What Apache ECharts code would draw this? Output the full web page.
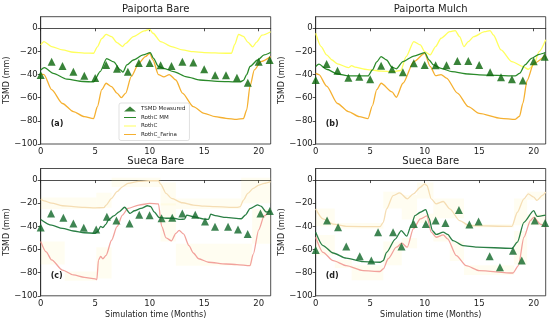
<!DOCTYPE html>
<html><head><meta charset="utf-8">
<script src="https://cdn.jsdelivr.net/npm/echarts@6/dist/echarts.min.js"></script>
<style>html,body{margin:0;padding:0;background:#fff}#c{width:550px;height:321px}</style>
</head><body><div id="c"></div>
<script>
// ---------- DATA ----------
const panelTitles = ['Paiporta Bare', 'Paiporta Mulch', 'Sueca Bare', 'Sueca Bare'];
const panelTags = ['(a)', '(b)', '(c)', '(d)'];
const seriesNames = ['TSMD Measured', 'RothC MM', 'RothC', 'RothC_Farina'];
const xTickValues = [0, 5, 10, 15, 20];
const yTickValues = [-100, -80, -60, -40, -20, 0];

// measured TSMD (month, mm)
const measA = [[0,-40.3],[1,-29],[2,-32.5],[3,-37.5],[4,-41],[5,-43],[6,-31.7],[7,-35],[8,-37.5],[9,-30],[10,-30],[11,-32],[12,-32.5],[13,-29],[14,-29.5],[15,-35.5],[16,-40.5],[17,-40.5],[18,-42.7],[19,-47],[20,-29],[21,-27.4]];
const measB = [[0,-44.7],[1,-30.8],[2,-36.6],[3,-42.7],[4,-41.8],[5,-44],[6,-32.3],[7,-35.4],[8,-38],[9,-30.3],[10,-31.7],[11,-32],[12,-32],[13,-28.2],[14,-28.2],[15,-31.7],[16,-38],[17,-42.4],[18,-44],[19,-45.2],[20,-28.5],[21,-24.5]];
const measC = [[0,-41],[0.95,-28.8],[2.08,-32.6],[3,-37.5],[3.95,-41.2],[5.09,-42.7],[6.07,-31.7],[6.95,-34.9],[8.15,-37.5],[9.04,-30],[9.99,-30.3],[11.09,-32.9],[12.07,-32.6],[12.99,-28.8],[14.18,-30],[15.07,-35.7],[15.99,-40.3],[17.19,-40.3],[18.1,-42.7],[18.99,-46.7],[20.16,-28.8],[21.02,-26.8]];
const measD = [[0,-60.5],[1.04,-35],[2.05,-40.8],[2.8,-57.5],[4.04,-65.8],[5.1,-69.6],[5.72,-45],[7.1,-45],[7.87,-57.5],[9,-37.9],[10.1,-37.9],[11,-35],[11.9,-37],[13.14,-25.8],[14.1,-38.3],[14.94,-35.9],[15.96,-65.8],[16.9,-75.3],[18.1,-61],[18.9,-69.6],[20.1,-35],[21.05,-37]];

// RothC MM
const mmA = [[0,-36],[0.35,-34],[1.15,-39],[2.4,-44],[3.9,-46],[4.85,-46.4],[5.45,-37.5],[6.05,-26.2],[6.7,-29],[7.3,-36],[7.55,-37.8],[7.9,-31.7],[8.5,-27.4],[9.4,-23],[10.05,-21],[10.35,-26],[10.8,-33],[11.3,-34.6],[12.2,-37.5],[13.4,-42],[14.6,-44.7],[16.2,-45.8],[18.3,-46.4],[18.6,-45],[18.9,-40],[19.2,-33],[19.9,-27.4],[20.5,-23],[21.1,-20.7]];
const mmB = [[0,-33],[0.3,-31],[1,-35.4],[2,-39.5],[3,-41.2],[4.8,-41.2],[5.2,-36],[5.6,-29],[6,-24.5],[6.5,-27.4],[7,-33.7],[7.4,-35],[8,-28.8],[9,-24],[10,-21],[10.4,-27.4],[10.8,-31.7],[11.5,-34.6],[12.5,-37.5],[14,-39.5],[15,-40.3],[18.3,-41.2],[18.7,-39],[19.2,-31.7],[19.8,-26],[20.5,-22.5],[21.1,-20.7]];
const mmC = [[0,-34],[1,-39],[2,-41.8],[3,-44],[4,-45.5],[5,-46],[5.2,-44.5],[5.5,-40],[5.7,-41],[6,-38],[6.2,-34.6],[6.7,-31],[7.2,-27.4],[7.7,-23.5],[8.2,-28.8],[8.6,-26.5],[9.2,-24.5],[9.8,-22.2],[10.1,-23],[10.4,-27.5],[10.9,-32.5],[11.5,-33],[12.2,-33],[12.8,-34],[13.2,-33.7],[13.4,-30.3],[14,-31.7],[15,-33.7],[15.4,-34],[15.6,-29.5],[16,-30.8],[17,-32.3],[18.4,-33.4],[18.8,-30],[19.2,-24.6],[19.9,-21.5],[20.2,-22.5],[20.7,-27.6],[21.1,-26.5]];
const mmD = [[0,-45],[0.67,-56.6],[1.6,-63],[2.8,-67.5],[4.35,-70.5],[5.9,-71],[6.2,-69.6],[6.5,-62.4],[7.3,-51],[7.85,-43.6],[8.35,-48.5],[8.8,-38],[9.1,-30.7],[9.6,-27.8],[10.1,-25.5],[10.4,-33],[10.7,-43.6],[11.05,-47],[11.7,-45],[12.1,-47],[12.6,-52.3],[13.5,-56.6],[14.8,-58],[18,-59],[18.5,-53.7],[19.1,-36.5],[20,-26.4],[20.3,-31.3],[21.1,-30.2]];

// RothC
const rothA = [[0,-14.4],[0.3,-11.5],[1,-15.8],[2,-18.7],[3,-20.7],[4,-21.5],[4.85,-21.6],[5.2,-16],[5.6,-9],[6,-5.2],[6.5,-7.2],[7,-12.4],[7.5,-15.8],[7.8,-13],[8.5,-7.2],[9.5,-2.3],[10,-0.9],[10.3,-4.3],[11,-11.5],[12,-15.8],[13,-18.7],[14,-20.2],[15,-21],[17,-21.6],[17.5,-21.6],[17.8,-14],[18.15,-5.3],[18.6,-7],[19,-12],[19.45,-16],[19.8,-12],[20.3,-6],[21.1,-3]];
const rothB = [[0,-4.3],[0.5,-15.8],[1,-23],[1.5,-27.4],[2,-30.8],[3,-34],[3.3,-32.3],[3.6,-33.5],[4.5,-35.4],[5,-36],[6,-37],[7,-37.5],[7.8,-36.5],[8.3,-24.5],[9,-11.5],[9.6,-14.4],[10,-20.2],[10.5,-23],[11,-15.8],[11.5,-8.6],[12.3,-2.9],[12.8,-2],[13.2,-7.2],[13.6,-15.8],[14,-11.5],[14.5,-7.2],[15.5,-2.9],[16,-2],[16.3,-5.8],[17,-18.7],[18,-28.8],[19,-33],[19.5,-35.4],[20,-31.7],[20.5,-20.2],[21.1,-10]];
const rothC = [[0,-16.7],[0.3,-17.9],[1,-20],[2,-22.2],[3,-23],[4,-23.6],[5,-24],[5.8,-23.8],[6,-21.6],[6.5,-15.8],[7,-10],[7.5,-5.8],[8,-2.9],[9,-1.2],[10,-0.6],[10.8,-0.6],[11,-3.5],[11.5,-11.5],[12,-15.8],[13,-19.6],[14,-21.6],[15,-22.5],[16,-23],[18,-23.6],[18.3,-23],[18.6,-17.3],[19,-11.5],[19.5,-7.2],[20,-4.3],[20.5,-2.9],[21.1,-1.4]];
const rothD = [[0,-24.9],[0.67,-33.6],[1.6,-38],[2.8,-40],[5.9,-40.3],[6.2,-36.5],[6.5,-24.9],[7.1,-13.4],[7.7,-11],[8.4,-16.2],[8.96,-11.9],[9.6,-6.2],[10,-3.3],[10.2,-4.7],[10.6,-16.2],[11.05,-20.6],[11.7,-18.5],[12.3,-24.9],[13.2,-35],[14.1,-39.4],[18,-40],[18.5,-27.8],[19.1,-16.2],[19.5,-11.9],[20,-14.7],[20.3,-17.6],[20.8,-13.2],[21.1,-10.4]];

// RothC_Farina
const farA = [[0,-39.5],[0.3,-40],[1,-53],[2,-65],[3,-72],[4,-76.4],[4.85,-78],[5.2,-67.7],[5.6,-53],[6,-47.5],[6.5,-50.4],[7,-56],[7.4,-60],[7.8,-56],[8.3,-41.8],[9,-30.3],[9.6,-24.5],[10,-21.6],[10.3,-27.4],[10.8,-40],[11.3,-42],[11.8,-40],[12.4,-44.7],[13,-56],[14,-67.7],[15,-73.5],[16,-76.4],[17,-77.8],[18,-78.7],[18.6,-78],[18.9,-70.6],[19.2,-50],[19.6,-36],[20.2,-28.8],[21.1,-24.5]];
const farB = [[0,-39],[0.3,-40],[1,-50],[2,-65],[3,-72],[4,-76.4],[4.8,-78],[5.2,-67],[5.6,-53],[6,-47.5],[7,-55],[7.4,-59.6],[8,-47.5],[9,-28.8],[10,-21.6],[10.5,-33],[11,-41],[11.5,-40],[12,-43],[13,-56],[14,-67.7],[15,-73.5],[17,-77.8],[18.3,-78.7],[18.7,-76],[19,-65],[19.4,-45],[20,-30.3],[21.1,-23]];
const farC = [[0,-53],[0.5,-62],[1,-69],[2,-77.8],[3,-82],[4,-84],[5,-85.3],[5.15,-86],[5.3,-69],[5.5,-66],[5.7,-68],[6,-65],[6.5,-52],[7,-40.3],[7.5,-30.3],[8,-24.5],[9,-21.6],[10,-20.2],[10.8,-20.5],[11.1,-40],[11.5,-50],[12,-52.5],[12.4,-46],[12.7,-43.5],[13.1,-46.5],[13.6,-56.6],[14,-63],[14.5,-68],[15.4,-71],[17,-72.5],[18,-73],[19.2,-74],[19.5,-64],[20,-43],[20.5,-31],[21.1,-25.5]];
const farD = [[0,-49.4],[0.67,-62.4],[1.6,-69.6],[2.8,-73.9],[4.35,-78.2],[5.9,-79],[6.2,-76.8],[6.65,-68],[7.4,-58],[7.9,-54.5],[8.4,-58],[8.96,-42],[9.6,-33.6],[10.2,-31],[10.6,-45],[11.05,-49.4],[11.7,-47.4],[12.1,-50.8],[12.9,-65.3],[13.8,-73.9],[15,-78.2],[18.1,-80.3],[18.6,-73.9],[19.1,-49.4],[19.7,-35],[20,-32.2],[20.6,-38],[21.1,-40.8]];

// pale monthly range blocks (start, end, low, high)
const bandC = [[0,5.1,-25,-15],[5.1,6.5,-24,-11],[6.5,11,-6,2],[11,12.4,-22,-2],[12.4,18.4,-25,-16],[18.4,21.1,-20,2],
               [0,2.2,-73,-53],[2.2,5.1,-87,-79],[5.1,6.5,-85,-58],[11,12.4,-53,-20],[12.4,19.4,-74,-55],[19.4,21.1,-55,-25]];
const bandD = [[0,1.75,-40,-24.5],[1.75,6.2,-42,-37],[6.2,7.9,-24.5,-10],[7.9,9.3,-34,-13],[9.3,10.8,-16,-2],[10.8,13.6,-33,-16],[13.6,18.2,-41,-38],[18.2,19.4,-39,-16],[19.4,21.1,-17,-10],
               [0,1.75,-65,-47.5],[1.75,3.3,-76,-69],[3.3,6.2,-86.5,-73.5],[6.2,7.9,-73.5,-53],[7.9,9.3,-59,-50],[9.3,10.8,-37,-29],[10.8,12.3,-53,-47],[12.3,13.6,-70,-53],[13.6,18.2,-82,-73.5],[18.2,19.4,-73,-44],[19.4,21.1,-39,-29]];

// ---------- CHART ----------
const panels = [
  {meas: measA, mm: mmA, roth: rothA, far: farA, band: null},
  {meas: measB, mm: mmB, roth: rothB, far: farB, band: null},
  {meas: measC, mm: mmC, roth: rothC, far: farC, band: bandC},
  {meas: measD, mm: mmD, roth: rothD, far: farD, band: bandD}
];
const gridPos = [
  {left: 40.7, top: 16.7}, {left: 315.7, top: 16.7},
  {left: 40.7, top: 168.5}, {left: 315.7, top: 168.5}
];
const GW = 230, GH = 127.3;
const FONT = 'DejaVu Sans';
const topColors = {mm: '#2a8a2a', roth: '#ffff5c', far: '#f5b030', meas: '#086408'};
const botColors = {mm: '#2a7f45', roth: '#f5ddb3', far: '#f2a29c', meas: '#0f6628'};
const minus = s => String(s).replace('-', '\u2212');

const grids = [], xAxes = [], yAxes = [], series = [], graphics = [];
panels.forEach((p, i) => {
  const bottom = i >= 2;
  const col = bottom ? botColors : topColors;
  grids.push({left: gridPos[i].left, top: gridPos[i].top, width: GW, height: GH,
    show: true, borderColor: '#222', borderWidth: 0.8, backgroundColor: '#fff'});
  xAxes.push({gridIndex: i, type: 'value', min: 0, max: 21.1, interval: 5,
    axisLine: {show: true, lineStyle: {color: '#222', width: 0.8}},
    axisTick: {show: true, length: 3, lineStyle: {color: '#222', width: 0.8}},
    splitLine: {show: false},
    axisLabel: {fontFamily: FONT, fontSize: 8.5, color: '#222', margin: 3, showMaxLabel: false,
      formatter: v => xTickValues.includes(v) ? String(v) : ''},
    name: bottom ? 'Simulation time (Months)' : '', nameLocation: 'middle', nameGap: 15,
    nameTextStyle: {fontFamily: FONT, fontSize: 8, color: '#222'}});
  yAxes.push({gridIndex: i, type: 'value', min: -100, max: 10, interval: 20,
    axisLine: {show: true, lineStyle: {color: '#222', width: 0.8}},
    axisTick: {show: true, length: 3, lineStyle: {color: '#222', width: 0.8}},
    splitLine: {show: false},
    axisLabel: {fontFamily: FONT, fontSize: 8.5, color: '#222', margin: 3, showMaxLabel: false,
      formatter: v => yTickValues.includes(v) ? minus(v) : ''},
    name: 'TSMD (mm)', nameLocation: 'middle', nameGap: 19,
    nameTextStyle: {fontFamily: FONT, fontSize: 8, color: '#222'}});
  if (p.band) {
    series.push({type: 'custom', xAxisIndex: i, yAxisIndex: i, data: p.band, clip: true, silent: true,
      encode: {x: [0, 1], y: [2, 3]}, z: 1,
      renderItem: (params, api) => {
        const a = api.coord([api.value(0), api.value(3)]);
        const b = api.coord([api.value(1), api.value(2)]);
        return {type: 'rect', shape: {x: a[0], y: a[1], width: b[0] - a[0], height: b[1] - a[1]},
          style: {fill: 'rgba(255,240,150,0.13)'}};
      }});
  }
  const lineCommon = {type: 'line', xAxisIndex: i, yAxisIndex: i, symbol: 'none', showSymbol: false,
    smooth: 0.25, smoothMonotone: 'x', z: 3};
  series.push(Object.assign({}, lineCommon, {name: 'RothC', data: p.roth, lineStyle: {color: col.roth, width: 1.3}, itemStyle: {color: col.roth}}));
  series.push(Object.assign({}, lineCommon, {name: 'RothC_Farina', data: p.far, lineStyle: {color: col.far, width: 1.3}, itemStyle: {color: col.far}}));
  series.push(Object.assign({}, lineCommon, {name: 'RothC MM', data: p.mm, lineStyle: {color: col.mm, width: 1.3}, itemStyle: {color: col.mm}}));
  series.push({type: 'scatter', name: 'TSMD Measured', xAxisIndex: i, yAxisIndex: i, data: p.meas,
    symbol: 'triangle', symbolSize: 8, itemStyle: {color: col.meas}, z: 4});
  const cx = gridPos[i].left + GW / 2;
  graphics.push({type: 'text', x: cx, y: gridPos[i].top - 7,
    style: {text: panelTitles[i], align: 'center', verticalAlign: 'middle', font: '10px ' + FONT, fill: '#222'}});
  graphics.push({type: 'text', x: gridPos[i].left + 10, y: gridPos[i].top + 107,
    style: {text: panelTags[i], align: 'left', verticalAlign: 'middle', font: 'bold 8px ' + FONT, fill: '#222'}});
});

const lineIcon = 'path://M0,0L24,0L24,2L0,2Z';
const chart = echarts.init(document.getElementById('c'), null, {renderer: 'canvas'});
chart.setOption({
  animation: false,
  backgroundColor: '#fff',
  grid: grids, xAxis: xAxes, yAxis: yAxes, series: series,
  legend: {
    data: [
      {name: 'TSMD Measured', icon: 'triangle'},
      {name: 'RothC MM', icon: lineIcon},
      {name: 'RothC', icon: lineIcon},
      {name: 'RothC_Farina', icon: lineIcon}
    ],
    orient: 'vertical', left: 119, top: 103, padding: [3, 4, 3, 5],
    itemGap: 2.5, itemWidth: 12, itemHeight: 5, selectedMode: false,
    backgroundColor: '#fff', borderColor: '#ccc', borderWidth: 0.6, borderRadius: 2,
    textStyle: {fontFamily: FONT, fontSize: 5.5, color: '#222'}},
  graphic: graphics
});
</script></body></html>
